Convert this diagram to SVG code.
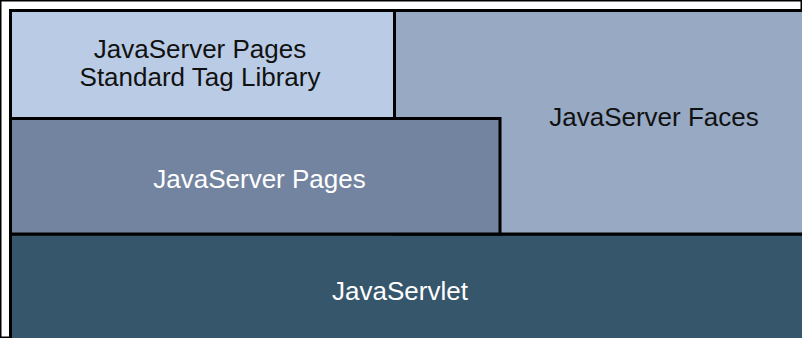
<svg xmlns="http://www.w3.org/2000/svg" width="802" height="338" viewBox="0 0 802 338">
<style>
rect{stroke:#000;stroke-width:3}
text{font-family:"Liberation Sans",Arial,sans-serif;font-size:26px;text-anchor:middle}
.dk{fill:#111}
.lt{fill:#fff}
</style>
<rect width="802" height="338" fill="#fff" stroke="none"/>
<g id="servlet">
<rect x="10.5" y="234" width="900" height="200" fill="#36566c"/>
<text class="lt" x="400" y="300">JavaServlet</text>
</g>
<g id="jsf">
<rect x="394.5" y="10.5" width="600" height="223.5" fill="#97a9c3"/>
<text class="dk" x="654" y="126">JavaServer Faces</text>
</g>
<g id="jsp">
<rect x="10.5" y="118.5" width="489.5" height="115.5" fill="#7384a0"/>
<text class="lt" x="259.5" y="188">JavaServer Pages</text>
</g>
<g id="jstl">
<rect x="10.5" y="10.5" width="384" height="108" fill="#bacce5"/>
<text class="dk" x="200" y="58">JavaServer Pages</text>
<text class="dk" x="200" y="85.5">Standard Tag Library</text>
</g>
<g id="connectors"/>
</svg>
